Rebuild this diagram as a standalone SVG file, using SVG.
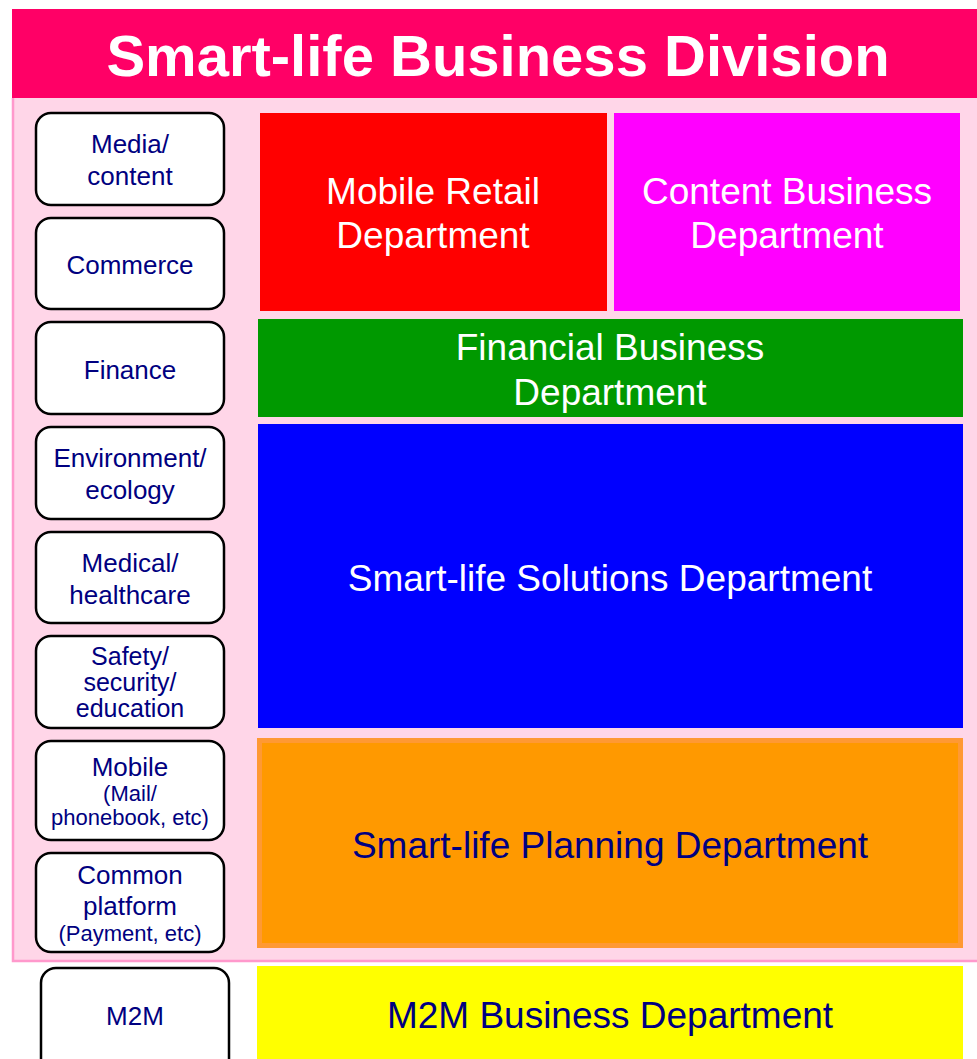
<svg xmlns="http://www.w3.org/2000/svg" width="977" height="1059" viewBox="0 0 977 1059">
<style>
.cat{fill:#fff;stroke:#000;stroke-width:2.5}
.ct{font-family:"Liberation Sans",Arial,sans-serif;font-size:26px;fill:#000080;text-anchor:middle}
.cs{font-size:22px}
.cm{font-size:25px}
.dt{font-family:"Liberation Sans",Arial,sans-serif;font-size:37px;fill:#fff;text-anchor:middle}
.dn{fill:#000080}
</style>
<rect x="0" y="0" width="977" height="1059" fill="#fff"/>
<g id="division">
<rect x="12" y="98" width="965" height="863" fill="#FFD6E8"/>
<path d="M13 98 V961 H977" fill="none" stroke="#FF99CC" stroke-width="2.5"/>
<rect x="12" y="9" width="965" height="89" fill="#FF0066"/>
<text x="498" y="76" font-family="'Liberation Sans',Arial,sans-serif" font-weight="bold" font-size="58" fill="#fff" text-anchor="middle">Smart-life Business Division</text>
</g>
<g id="cat-media"><rect class="cat" x="36" y="113" width="188" height="92" rx="15"/><text class="ct" x="130" y="153">Media/</text><text class="ct" x="130" y="185">content</text></g>
<g id="cat-commerce"><rect class="cat" x="36" y="218" width="188" height="91" rx="15"/><text class="ct" x="130" y="274">Commerce</text></g>
<g id="cat-finance"><rect class="cat" x="36" y="322" width="188" height="92" rx="15"/><text class="ct" x="130" y="379">Finance</text></g>
<g id="cat-environment"><rect class="cat" x="36" y="427" width="188" height="92" rx="15"/><text class="ct" x="130" y="467">Environment/</text><text class="ct" x="130" y="499">ecology</text></g>
<g id="cat-medical"><rect class="cat" x="36" y="532" width="188" height="91" rx="15"/><text class="ct" x="130" y="572">Medical/</text><text class="ct" x="130" y="604">healthcare</text></g>
<g id="cat-safety"><rect class="cat" x="36" y="636" width="188" height="92" rx="15"/><text class="ct cm" x="130" y="665">Safety/</text><text class="ct cm" x="130" y="691">security/</text><text class="ct cm" x="130" y="717">education</text></g>
<g id="cat-mobile"><rect class="cat" x="36" y="741" width="188" height="99" rx="15"/><text class="ct" x="130" y="776">Mobile</text><text class="ct cs" x="130" y="801">(Mail/</text><text class="ct cs" x="130" y="825">phonebook, etc)</text></g>
<g id="cat-common"><rect class="cat" x="36" y="853" width="188" height="99" rx="15"/><text class="ct" x="130" y="884">Common</text><text class="ct" x="130" y="915">platform</text><text class="ct cs" x="130" y="941">(Payment, etc)</text></g>
<g id="cat-m2m"><rect class="cat" x="41" y="968" width="188" height="110" rx="15"/><text class="ct" x="135" y="1025" font-size="25">M2M</text></g>
<g id="dept-mobile-retail"><rect x="260" y="113" width="347" height="198" fill="#FF0000"/><text class="dt" x="433" y="204">Mobile Retail</text><text class="dt" x="433" y="248">Department</text></g>
<g id="dept-content"><rect x="614" y="113" width="346" height="198" fill="#FF00FF"/><text class="dt" x="787" y="204">Content Business</text><text class="dt" x="787" y="248">Department</text></g>
<g id="dept-financial"><rect x="258" y="319" width="705" height="98" fill="#009900"/><text class="dt" x="610" y="360">Financial Business</text><text class="dt" x="610" y="405">Department</text></g>
<g id="dept-solutions"><rect x="258" y="424" width="705" height="304" fill="#0000FF"/><text class="dt" x="610" y="591">Smart-life Solutions Department</text></g>
<g id="dept-planning"><rect x="259.5" y="740.5" width="701" height="205" fill="#FF9900" stroke="#FF9933" stroke-width="5"/><text class="dt dn" x="610" y="858">Smart-life Planning Department</text></g>
<g id="dept-m2m"><rect x="257" y="966" width="706" height="93" fill="#FFFF00"/><text class="dt dn" x="610" y="1028">M2M Business Department</text></g>
<g id="connectors"></g>
</svg>
